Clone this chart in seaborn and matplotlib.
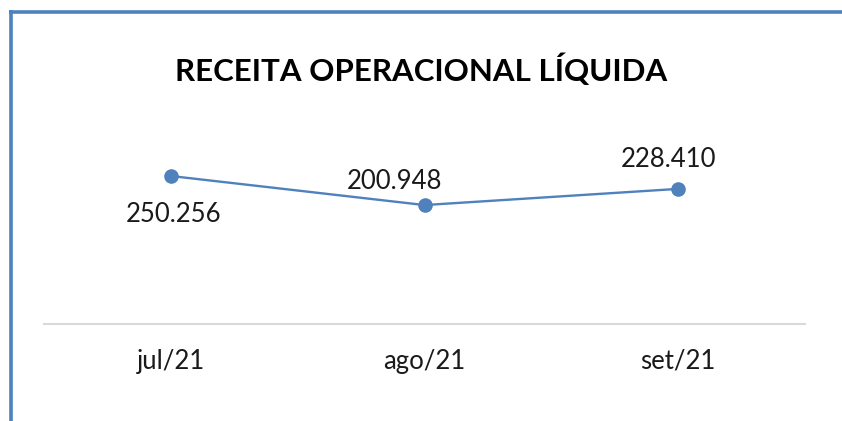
import matplotlib
matplotlib.use("Agg")
import matplotlib.pyplot as plt
from matplotlib.lines import Line2D
import seaborn as sns
import pandas as pd

categories = ["jul/21", "ago/21", "set/21"]
values = [250.256, 200.948, 228.410]
labels = ["250.256", "200.948", "228.410"]
title = "RECEITA OPERACIONAL LÍQUIDA"

sns.set_style("white")
plt.rcParams["font.family"] = ["Lato", "DejaVu Sans"]

W, H = 842, 421
fig = plt.figure(figsize=(W / 100, H / 100), dpi=100)
ax_bottom = 323.5
ymax = 300
px_per_unit = (323.5 - 176) / 250.256
ax_top = ax_bottom - ymax * px_per_unit
ax = fig.add_axes([44 / W, (H - ax_bottom) / H, (805 - 44) / W, (ax_bottom - ax_top) / H])

df = pd.DataFrame({"x": range(len(categories)), "v": values})
color = "#4f81bd"
sns.lineplot(data=df, x="x", y="v", ax=ax, color=color, linewidth=1.7,
             marker="o", markersize=10.5, markeredgewidth=0, legend=False)

ax.set_xlim(-0.5, len(categories) - 0.5)
ax.set_ylim(0, ymax)
ax.set_xticks(range(len(categories)))
ax.set_xticklabels(categories, fontsize=18.5, color="#1a1a1a")
ax.set_yticks([])
ax.tick_params(axis="x", length=0, pad=18)
ax.set_xlabel("")
ax.set_ylabel("")
for s in ["top", "right", "left"]:
    ax.spines[s].set_visible(False)
ax.spines["bottom"].set_color("#d9d9d9")
ax.spines["bottom"].set_linewidth(1.5)

offsets = [(3, -39), (-30, 24), (-10, 29)]
for i, (v, lab) in enumerate(zip(values, labels)):
    ax.annotate(lab, (i, v), xytext=offsets[i], textcoords="offset pixels",
                ha="center", va="center", fontsize=18.5, color="#1a1a1a")

fig.text(421 / W, 1 - 70 / H, title, ha="center", va="center",
         fontsize=22.5, fontweight="bold", color="#000000")

fig.add_artist(Line2D([10.5 / W, 10.5 / W], [0, 1 - 10 / H], transform=fig.transFigure,
                      color=color, linewidth=2.6, solid_capstyle="butt"))
fig.add_artist(Line2D([9 / W, 1], [1 - 12 / H, 1 - 12 / H], transform=fig.transFigure,
                      color=color, linewidth=2.6, solid_capstyle="butt"))

fig.savefig("out.png", dpi=100, facecolor="white")
